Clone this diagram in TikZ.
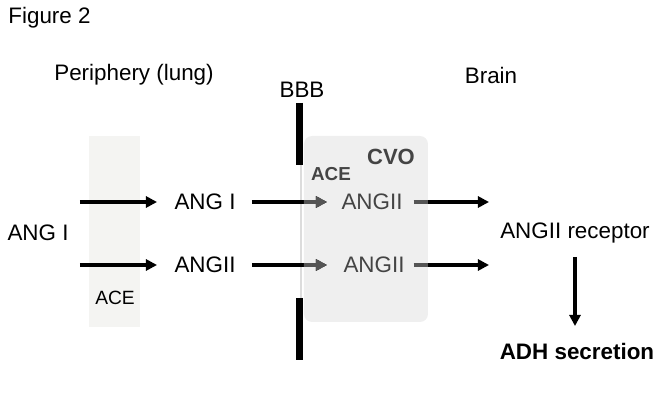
\documentclass[tikz,border=0pt]{standalone}
\usepackage{fontspec}
\setmainfont{Liberation Sans}
\usetikzlibrary{arrows.meta}
\definecolor{acebg}{HTML}{F4F4F2}
\definecolor{cvobg}{HTML}{EFEFEF}
\definecolor{intext}{HTML}{444444}
\definecolor{inarrow}{HTML}{555555}
\definecolor{bbbline}{HTML}{DCDCDC}
\tikzset{
  lbl/.style={inner sep=0pt, font=\fontsize{11.2}{13}\selectfont},
  small/.style={inner sep=0pt, font=\fontsize{9.6}{11}\selectfont},
  arr/.style={line width=1.7pt, -{Triangle[length=5.5pt,width=5.5pt]}},
  bbb/.style={line width=3.5pt, black},
}
\begin{document}
\begin{tikzpicture}[x=0.5pt,y=-0.5pt]
\useasboundingbox (0,0) rectangle (661,417);
% backgrounds
\fill[acebg] (89,136) rectangle (140,327);
\fill[cvobg, rounded corners=4pt] (304,136) rectangle (428,322);
\draw[bbbline, line width=1pt] (301,165) -- (301,298);
\draw[bbb] (300,103) -- (300,165);
\draw[bbb] (300,298) -- (300,360);
% labels
\node[lbl, anchor=west] (fig) at (8,18) {Figure 2};
\node[lbl] (peri) at (134,75) {Periphery (lung)};
\node[lbl] (bbbl) at (302,90) {BBB};
\node[lbl] (brain) at (491,75) {Brain};
\node[small] (acel) at (115,298) {ACE};
\node[lbl] (ang0) at (38,233) {ANG I};
\node[lbl] (a1) at (205,202) {ANG I};
\node[lbl] (a2) at (205,265) {ANGII};
\node[lbl, font=\fontsize{11}{13}\selectfont\bfseries, text=intext] (cvo) at (391,157) {CVO};
\node[small, font=\fontsize{9.4}{11}\selectfont\bfseries, text=intext] (acec) at (331,174) {ACE};
\node[lbl, text=intext] (c1) at (372,202) {ANGII};
\node[lbl, text=intext] (c2) at (374,265) {ANGII};
\node[lbl] (rec) at (575,233) {ANGII receptor};
\node[lbl, font=\fontsize{11.2}{13}\selectfont\bfseries] (adh) at (577,351) {ADH secretion};
% connector ends
\coordinate (s1) at (80,202);
\coordinate (t1) at (157,202);
\coordinate (s2) at (80,265);
\coordinate (t2) at (157,265);
\coordinate (u1) at (252,202);
\coordinate (v1) at (327,202);
\coordinate (u2) at (252,265);
\coordinate (v2) at (327,265);
\coordinate (w1) at (414,202);
\coordinate (x1) at (489,202);
\coordinate (w2) at (414,265);
\coordinate (x2) at (489,265);
\coordinate (d1) at (575,257);
\coordinate (d2) at (575,326);
% arrows
\draw[arr] (s1) -- (t1);
\draw[arr] (s2) -- (t2);
\draw[arr] (u1) -- (v1);
\draw[arr] (u2) -- (v2);
\draw[arr] (w1) -- (x1);
\draw[arr] (w2) -- (x2);
\draw[arr] (d1) -- (d2);
% grey parts of arrows inside the CVO box
\begin{scope}
\clip[rounded corners=4pt] (304,136) rectangle (428,322);
\draw[arr, inarrow] (u1) -- (v1);
\draw[arr, inarrow] (u2) -- (v2);
\draw[arr, inarrow] (w1) -- (x1);
\draw[arr, inarrow] (w2) -- (x2);
\end{scope}
\end{tikzpicture}
\end{document}
